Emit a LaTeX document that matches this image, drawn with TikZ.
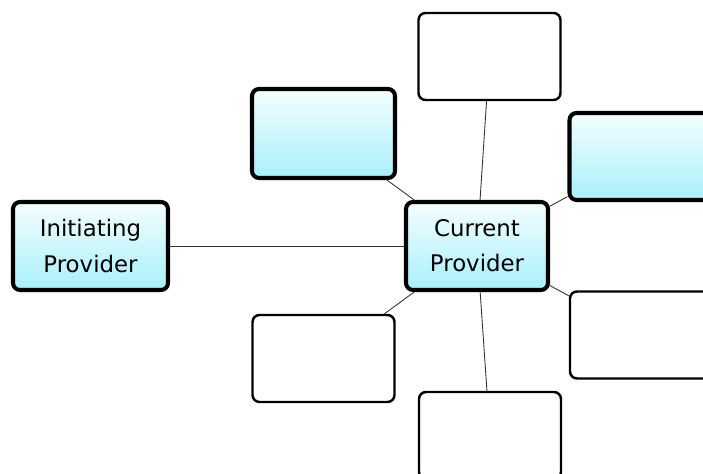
\documentclass[tikz,border=0pt]{standalone}
\usepackage{fontspec}
\setmainfont{DejaVu Sans}
\definecolor{boxtop}{HTML}{F4FEFF}
\definecolor{boxbot}{HTML}{A8F0FA}
\tikzset{
  bluebox/.style={draw=black, line width=2.3pt, rounded corners=4pt, top color=boxtop, bottom color=boxbot, minimum width=2.86cm, minimum height=1.76cm, align=center, font=\fontsize{13}{20}\selectfont, inner sep=0pt},
  whitebox/.style={draw=black, line width=1.4pt, rounded corners=4pt, fill=white, minimum width=2.84cm, minimum height=1.74cm, inner sep=0pt},
  link/.style={draw=black!80, line width=0.5pt}
}
\begin{document}
\begin{tikzpicture}
                \useasboundingbox (0,0) rectangle (14.06,9.48);
                \clip (0,0) rectangle (14.06,9.48);
                % Initiating Box
                \node[bluebox, minimum width=3.1cm] (init) at (1.81,4.56) {Initiating\\Provider};
                % Current Box
                \node[bluebox, minimum width=2.84cm] (curr) at (9.54,4.56) {Current\\Provider};
                % Blue Boxes
                \node[bluebox, minimum height=1.78cm] (upleft) at (6.47,6.81) {};
                \node[bluebox, minimum height=1.74cm] (upright) at (12.82,6.35) {};
                % White Boxes
                \node[whitebox] (top) at (9.79,8.35) {};
                \node[whitebox] (lowright) at (12.82,2.78) {};
                \node[whitebox] (lowleft) at (6.47,2.31) {};
                \node[whitebox] (bottom) at (9.80,0.77) {};
                % Links from Current
                \draw[link] (init) -- (curr);
                \draw[link] (curr) -- (upleft);
                \draw[link] (curr) -- (top);
                \draw[link] (curr) -- (upright);
                \draw[link] (curr) -- (lowright);
                \draw[link] (curr) -- (bottom);
                \draw[link] (curr) -- (lowleft);
            \end{tikzpicture}
\end{document}
